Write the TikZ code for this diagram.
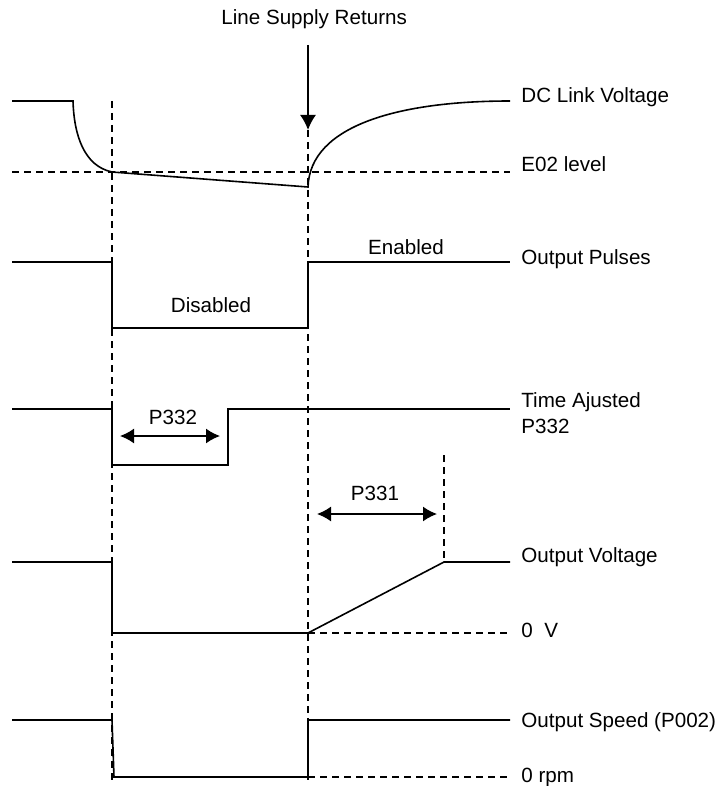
\documentclass[tikz,border=0pt]{standalone}
\usepackage{fontspec}
\setmainfont{Liberation Sans}
\usepackage{tikz}
\usetikzlibrary{positioning,arrows.meta,calc}
\tikzset{
  signal/.style={line width=0.8pt, line join=miter},
  guide/.style={line width=0.55pt, dash pattern=on 3.5pt off 2.5pt},
  markarrow/.style={-{Latex[length=7.5pt, width=8pt]}, line width=0.8pt},
  spanarrow/.style={{Latex[length=7pt, width=7.5pt]}-{Latex[length=7pt, width=7.5pt]}, line width=0.8pt},
  siglabel/.style={anchor=base west, inner sep=0pt},
  midlabel/.style={anchor=base, inner sep=0pt}
}

\begin{document}
\begin{tikzpicture}[x=0.5pt, y=-0.5pt, >=Latex, every node/.style={font=\fontsize{10.3}{13}\selectfont}]
  \useasboundingbox (0,0) rectangle (724,786);

  % time marks
  \coordinate (ret top) at (308,45);
  \coordinate (ret tip) at (308,130);

  % DC link
  \draw[signal] (12,101) -- (73,101) .. controls (74,135) and (84,166) .. (112,172)
    -- (308,187) .. controls (310,125) and (400,101) .. (510,101);
  \draw[guide] (12,172) -- (510,172);

  % output pulses
  \draw[signal] (12,262) -| (112,328) -| (308,262) -- (510,262);

  % time adjusted
  \draw[signal] (12,409) -| (112,465) -| (228,409) -- (510,409);
  \coordinate (p332 a) at (120,436);
  \coordinate (p332 b) at (220,436);

  % output voltage
  \draw[signal] (12,562) -| (112,633) -- (308,633) -- (444,562) -- (510,562);
  \draw[guide] (308,633) -- (510,633);
  \draw[guide] (444,455) -- (444,562);
  \coordinate (p331 a) at (317,514);
  \coordinate (p331 b) at (437,514);

  % output speed
  \draw[signal] (12,720) -- (112,720) -- (114,777) -- (308,777) |- (510,720);
  \draw[guide] (308,777) -- (510,777);

  % guide lines
  \draw[guide] (112,101) -- (112,780);
  \draw[guide] (ret tip) -- (308,780);

  % arrows
  \draw[markarrow] (ret top) -- (ret tip);
  \draw[spanarrow] (p332 a) -- (p332 b);
  \draw[spanarrow] (p331 a) -- (p331 b);

  % labels
  \node[anchor=base west, inner sep=0pt] (supply) at (221,25) {Line Supply Returns};
  \node[siglabel] (dclink) at (521,103) {DC Link Voltage};
  \node[siglabel] (e02) at (521,172) {E02 level};
  \node[siglabel] (pulses) at (521,264) {Output Pulses};
  \node[midlabel] (enabled) at (406,255) {Enabled};
  \node[midlabel] (disabled) at (211,312) {Disabled};
  \node[siglabel] (tadj) at (521,407) {Time Ajusted};
  \node[siglabel] (tadjp) at (521,433) {P332};
  \node[midlabel] (p332) at (173,424) {P332};
  \node[midlabel] (p331) at (375,500) {P331};
  \node[siglabel] (outv) at (521,562) {Output Voltage};
  \node[siglabel] (zerov) at (521,637) {0 \ V};
  \node[siglabel] (outs) at (521,727) {Output Speed (P002)};
  \node[siglabel] (zerorpm) at (521,782) {0 rpm};
\end{tikzpicture}
\end{document}
